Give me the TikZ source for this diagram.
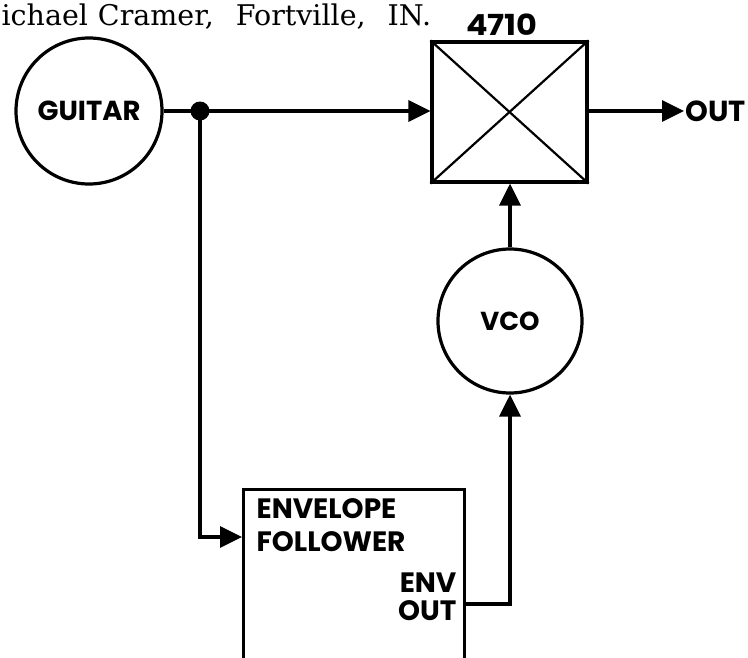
\documentclass[tikz,border=0pt]{standalone}
\usepackage{fontspec}
\setmainfont{Poppins}
\newfontfamily\lblfont{Poppins}
\newfontfamily\lblwide[FakeStretch=1.1]{Poppins}
\newfontfamily\titlefont{DejaVu Serif}
\usetikzlibrary{arrows.meta}
\begin{document}
\begin{tikzpicture}[x=1pt,y=-1pt,
  line width=3.2pt,
  lbl/.style={font=\lblfont\fontsize{28}{30}\selectfont\bfseries, inner sep=0pt},
  blockcircle/.style={circle, draw, minimum size=146pt, inner sep=0pt, lbl},
  arr/.style={-{Triangle[length=22pt,width=21pt]}},
]
\useasboundingbox (0,0) rectangle (748,657);
\clip (0,0) rectangle (748,657);
\fill[white] (0,0) rectangle (748,657);
% title
\node[anchor=base west, inner sep=0pt, font=\titlefont\fontsize{28.5}{30}\selectfont] (title) at (0,25) {ichael\hspace{10pt}Cramer,\hspace{22pt}Fortville,\hspace{22pt}IN.};
% blocks
\node[blockcircle, font=\lblfont\fontsize{27.5}{30}\selectfont\bfseries] (guitar) at (89,111) {GUITAR};
\node[draw, minimum width=155pt, minimum height=140pt, inner sep=0pt] (mod) at (509.5,112) {};
\draw[line width=2.2pt] (mod.north west) -- (mod.south east) (mod.north east) -- (mod.south west);
\node[lbl, anchor=base, font=\lblwide\fontsize{29}{30}\selectfont\bfseries] (modlbl) at (502,35) {4710};
\node[blockcircle, minimum size=144pt, font=\lblfont\fontsize{26}{30}\selectfont\bfseries] (vco) at (510,321) {VCO};
\node[draw, minimum width=221pt, minimum height=220pt, inner sep=0pt, anchor=north west] (env) at (242,488) {};
\node[lbl, anchor=base west] (envl1) at (255,518) {ENVELOPE};
\node[lbl, anchor=base west] (envl2) at (255,551) {FOLLOWER};
\node[lbl, anchor=base east] (envo1) at (458,592) {ENV};
\node[lbl, anchor=base east] (envo2) at (458,620) {OUT};
\node[lbl, anchor=west, font=\lblfont\fontsize{29}{30}\selectfont\bfseries] (out) at (684,111) {OUT};
% connectors
\coordinate (dot) at (200,111);
\coordinate (envin) at (242,537);
\coordinate (envout) at (463,604);
\fill (dot) circle (9.5pt);
\draw (guitar.east) -- (dot);
\draw[arr] (dot) -- (mod.west |- dot);
\draw[arr] (dot) |- (envin);
\draw[arr] (mod.east |- out) -- (out.west);
\draw[arr] (vco.north) -- (mod.south -| vco.north);
\draw[arr] (envout) -| (vco.south);
\end{tikzpicture}
\end{document}
